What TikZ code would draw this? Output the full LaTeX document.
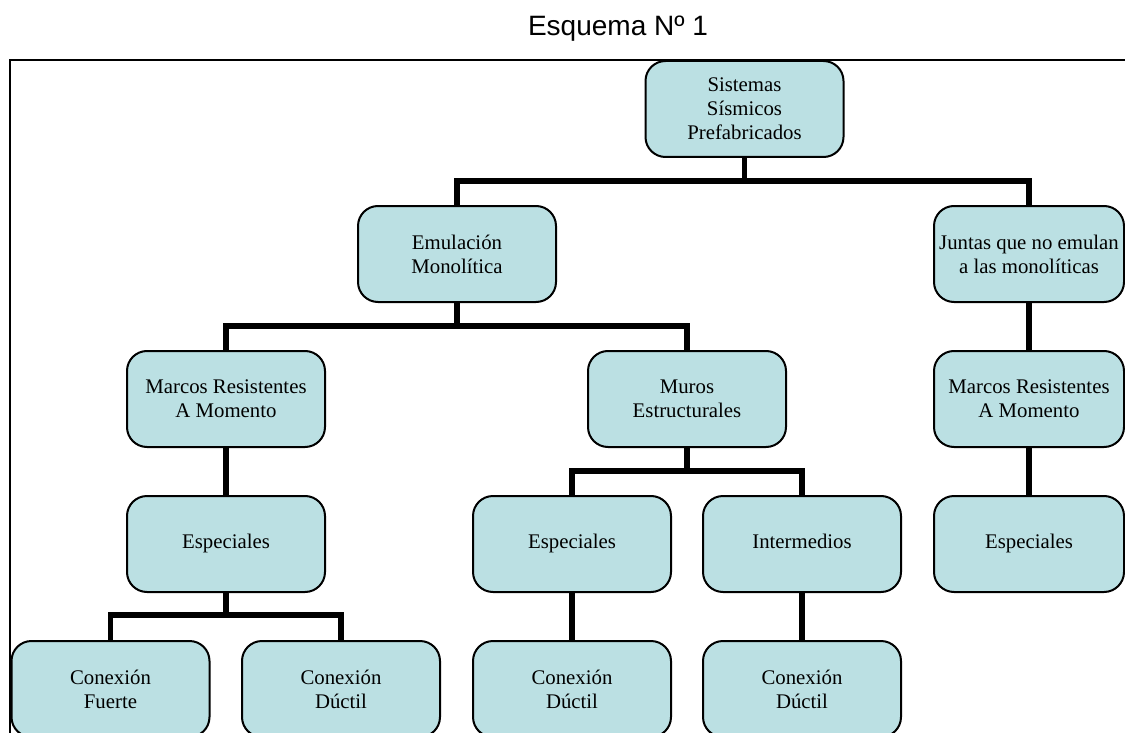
\documentclass[tikz,border=0pt]{standalone}
\usepackage{fontspec}
\setmainfont{Liberation Serif}
\newfontfamily\titlefont{Liberation Sans}
\usepackage{tikz}
\usetikzlibrary{positioning,calc}
\usepackage{xcolor}
\definecolor{boxfill}{RGB}{187,224,227}

\tikzset{
  box/.style={rectangle,draw,line width=1pt,rounded corners=10pt,fill=boxfill,
    minimum width=99pt,minimum height=48pt,inner sep=0pt,align=center,
    font=\fontsize{10.4}{12}\selectfont},
  narrowbox/.style={box,minimum width=95pt},
  link/.style={line width=2.8pt}
}

\begin{document}
\begin{tikzpicture}[x=0.5pt,y=-0.5pt]
\clip (0,0) rectangle (1125,733);
\node (title) at (618,36) [anchor=base,font=\titlefont\fontsize{14}{16}\selectfont] {Esquema Nº 1};
\draw[line width=1pt] (10,60) rectangle (1145,760);
% levels
\node (sis) at (744.5,109) [box] {Sistemas\\Sísmicos\\Prefabricados};
\node (emu) at (457,254) [box] {Emulación\\Monolítica};
\node (jun) at (1029,254) [narrowbox] {Juntas que no emulan\\a las monolíticas};
\node (mar1) at (226,399) [box] {Marcos Resistentes\\A Momento};
\node (mur) at (687,399) [box] {Muros\\Estructurales};
\node (mar2) at (1029,399) [narrowbox] {Marcos Resistentes\\A Momento};
\node (esp1) at (226,544) [box] {\strut Especiales};
\node (esp2) at (572,544) [box] {\strut Especiales};
\node (int) at (802,544) [box] {\strut Intermedios};
\node (esp3) at (1029,544) [narrowbox] {\strut Especiales};
\node (con1) at (110.5,689) [box] {Conexión\\Fuerte};
\node (con2) at (341,689) [box] {Conexión\\Dúctil};
\node (con3) at (572,689) [box] {Conexión\\Dúctil};
\node (con4) at (802,689) [box] {Conexión\\Dúctil};
% branches
\draw[link] (sis.south) -- ++(0,25);
\draw[link] (emu.north) -- ++(0,-24) -| (jun.north);
\draw[link] (emu.south) -- ++(0,24);
\draw[link] (mar1.north) -- ++(0,-24) -| (mur.north);
\draw[link] (mur.south) -- ++(0,25);
\draw[link] (esp2.north) -- ++(0,-24) -| (int.north);
\draw[link] (esp1.south) -- ++(0,24);
\draw[link] (con1.north) -- ++(0,-25) -| (con2.north);
% straight links
\foreach \a/\b in {jun/mar2,mar2/esp3,mar1/esp1,esp2/con3,int/con4}
  \draw[link] (\a.south) -- (\b.north);
\end{tikzpicture}
\end{document}
